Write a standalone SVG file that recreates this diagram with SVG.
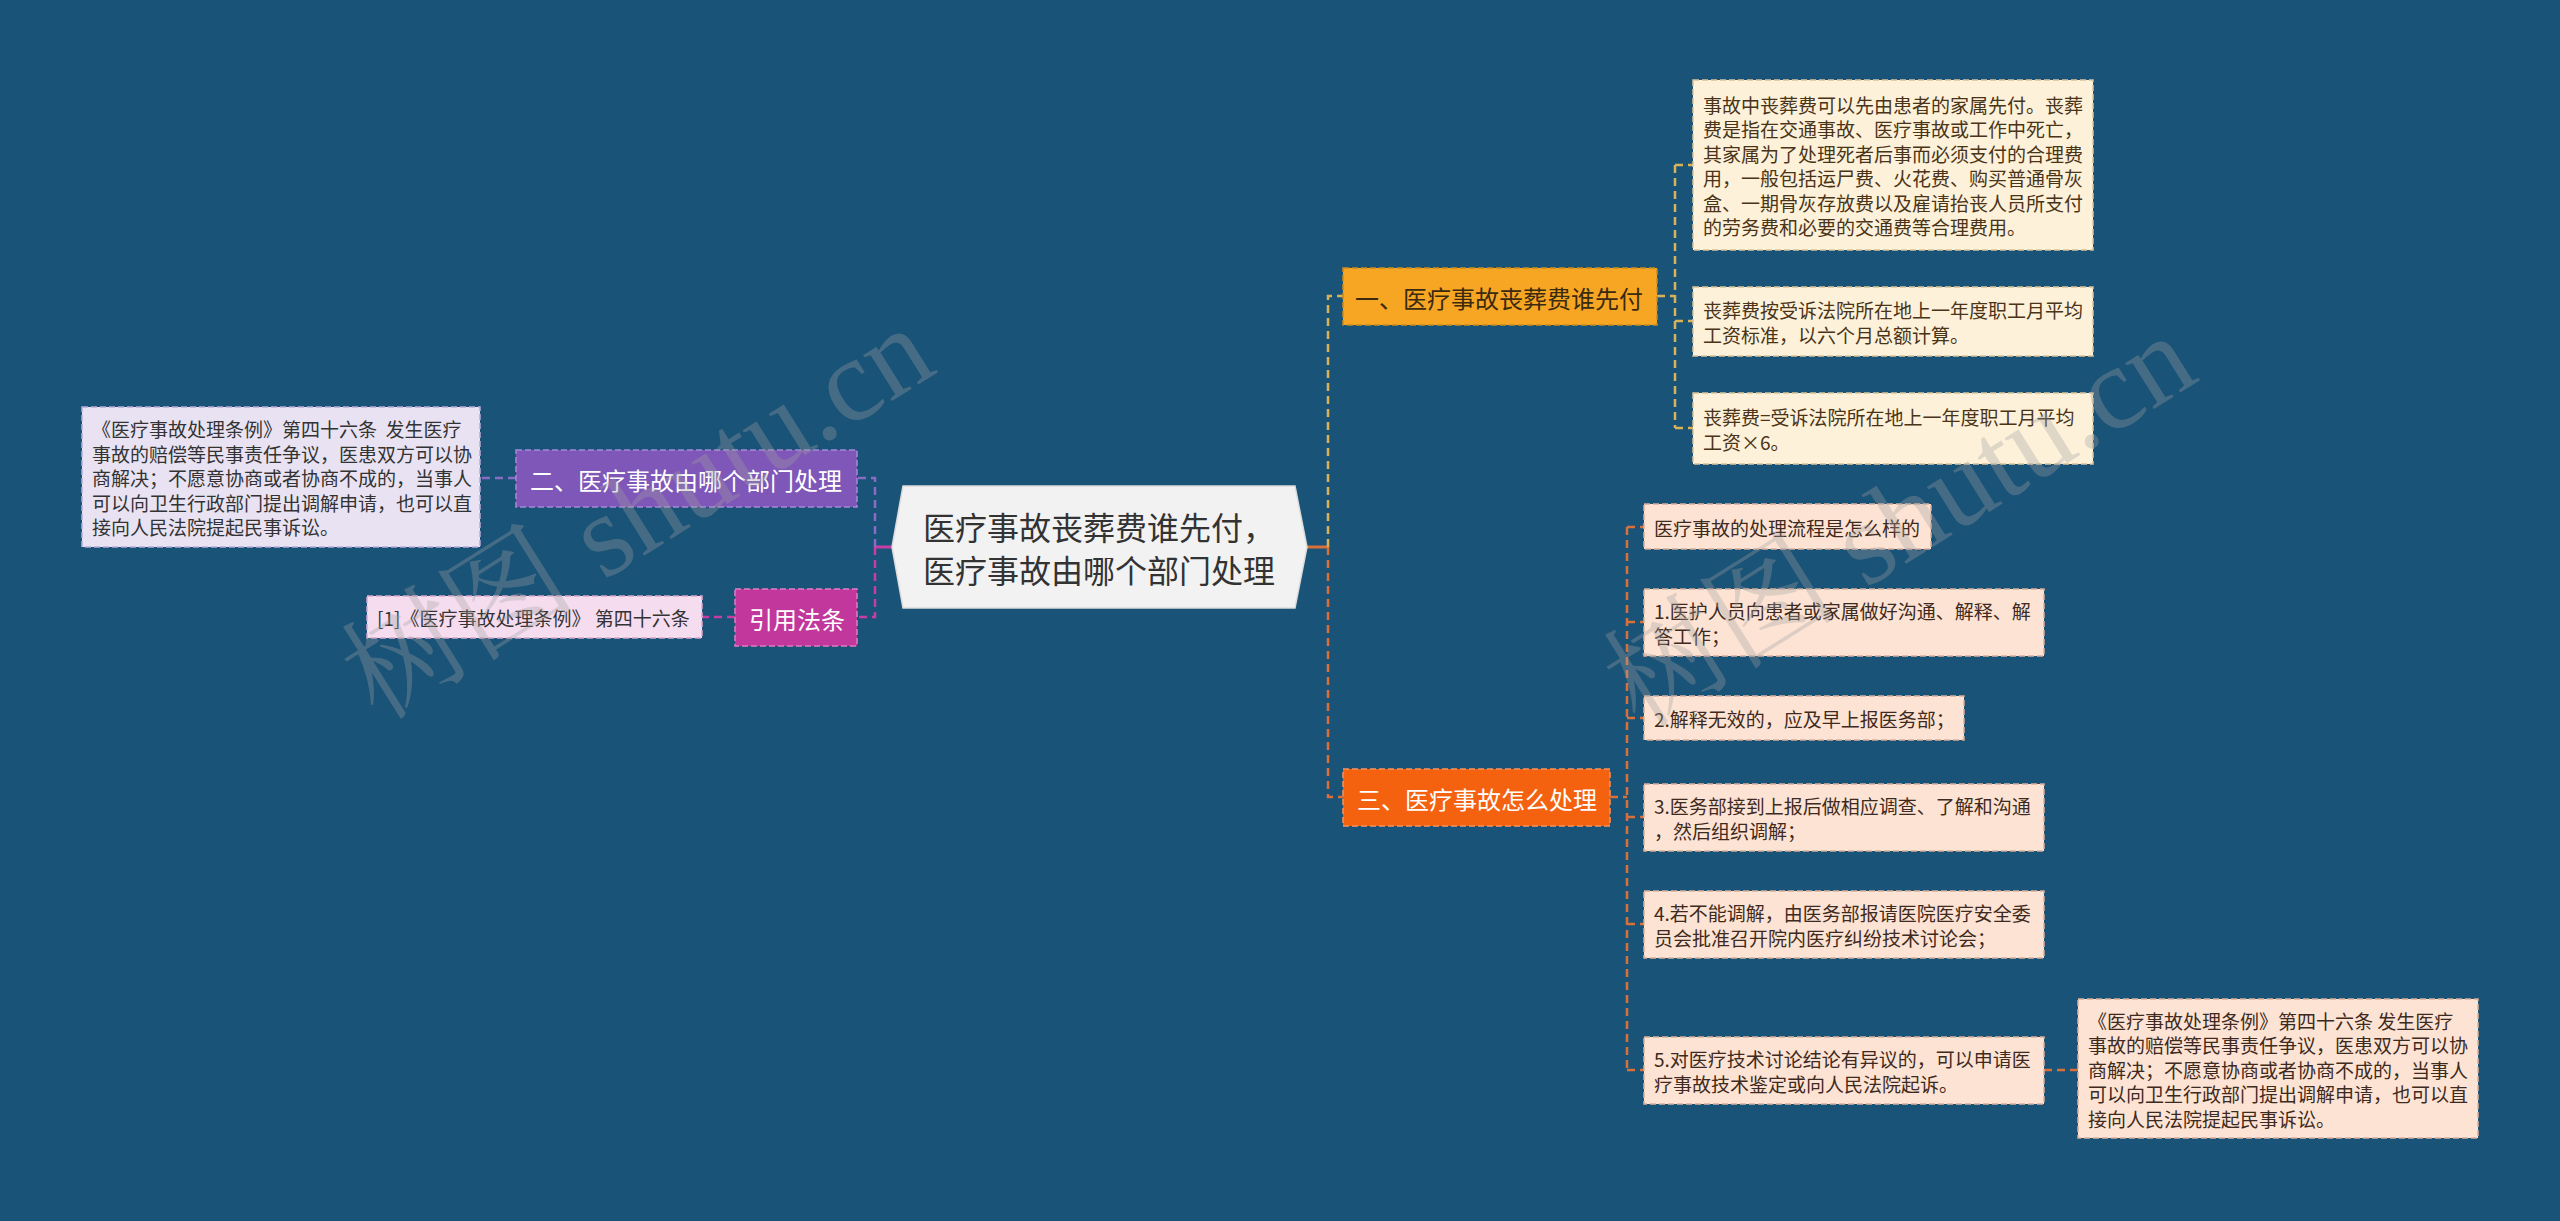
<svg xmlns="http://www.w3.org/2000/svg" width="2560" height="1221" viewBox="0 0 2560 1221">
<defs>
<style>
text{font-family:"Noto Sans CJK SC","Noto Sans",sans-serif;}
.t19{font-size:19px;dominant-baseline:central;}
.t24{font-size:24px;dominant-baseline:central;}
.t32{font-size:32px;dominant-baseline:central;fill:#333333;}
.c{fill:none;stroke-width:2.5;stroke-dasharray:8 5;}
.s{fill:none;stroke-width:3;}
.pur{stroke:#8a6cc4;}
.mag{stroke:#c63ea2;}
.yel{stroke:#d9b258;}
.org{stroke:#d9703a;}
.nb{stroke-width:1.5;stroke-dasharray:6 3;}
.wm{font-family:"Liberation Serif","Noto Serif CJK SC","Noto Sans CJK SC",serif;font-size:118px;fill:#a0a0a0;fill-opacity:0.33;}
</style>
</defs>
<rect x="0" y="0" width="2560" height="1221" fill="#1a5378"/>

<g id="connectors">
  <line class="s mag" x1="892" y1="547" x2="875" y2="547"/>
  <path class="c pur" d="M875,547 V478 H857"/>
  <path class="c mag" d="M875,547 V617 H857"/>
  <line class="c pur" x1="516" y1="478" x2="480" y2="478"/>
  <line class="c mag" x1="735" y1="617" x2="702" y2="617"/>
  <line class="s org" x1="1307" y1="547" x2="1328" y2="547"/>
  <path class="c yel" d="M1328,547 V296 H1343"/>
  <path class="c org" d="M1328,547 V797 H1343"/>
  <path class="c yel" d="M1657,296 H1675 M1675,165 V428 M1675,165 H1693 M1675,321 H1693 M1675,428 H1693"/>
  <path class="c org" d="M1610,797 H1627 M1627,527 V1070 M1627,527 H1644 M1627,622 H1644 M1627,718 H1644 M1627,817 H1644 M1627,924 H1644 M1627,1070 H1644"/>
  <line class="c org" x1="2044" y1="1070" x2="2078" y2="1070"/>
</g>

<g id="root">
  <polygon points="892,547 903,486 1295,486 1307,547 1295,608 903,608" fill="#f2f2f2" stroke="#dcdcdc" stroke-width="1.5"/>
  <text class="t32" x="1099" y="526" text-anchor="middle">医疗事故丧葬费谁先付，</text>
  <text class="t32" x="1099" y="569" text-anchor="middle">医疗事故由哪个部门处理</text>
</g>

<g id="node-er">
  <rect x="516" y="450" width="341" height="57" fill="#7e57b8" class="nb" stroke="#a58ad6"/>
  <text class="t24" x="530" y="479" fill="#ffffff">二、医疗事故由哪个部门处理</text>
</g>
<g id="node-er-detail">
  <rect x="82" y="407" width="398" height="140" fill="#e8e2f2" class="nb" stroke="#b9aad6"/>
  <text class="t19" fill="#333333"><tspan x="92" y="428">《医疗事故处理条例》第四十六条&#160;&#160;发生医疗</tspan><tspan x="92" y="452.5">事故的赔偿等民事责任争议，医患双方可以协</tspan><tspan x="92" y="477">商解决；不愿意协商或者协商不成的，当事人</tspan><tspan x="92" y="501.5">可以向卫生行政部门提出调解申请，也可以直</tspan><tspan x="92" y="526">接向人民法院提起民事诉讼。</tspan></text>
</g>

<g id="node-law">
  <rect x="735" y="589" width="122" height="57" fill="#c2379b" class="nb" stroke="#e07cc4"/>
  <text class="t24" x="749" y="618" fill="#ffffff">引用法条</text>
</g>
<g id="node-law-detail">
  <rect x="367" y="596" width="335" height="42" fill="#f5ddef" class="nb" stroke="#d8a8cc"/>
  <text class="t19" x="377" y="617" fill="#333333">[1]《医疗事故处理条例》 第四十六条</text>
</g>

<g id="node-yi">
  <rect x="1343" y="268" width="314" height="57" fill="#f6a623" class="nb" stroke="#c98a1c"/>
  <text class="t24" x="1355" y="297" fill="#3a2a10">一、医疗事故丧葬费谁先付</text>
</g>
<g id="node-yi-1">
  <rect x="1693" y="80" width="400" height="170" fill="#fdf1d9" class="nb" stroke="#d9c49a"/>
  <text class="t19" fill="#4a3418"><tspan x="1703" y="103.75">事故中丧葬费可以先由患者的家属先付。丧葬</tspan><tspan x="1703" y="128.25">费是指在交通事故、医疗事故或工作中死亡，</tspan><tspan x="1703" y="152.75">其家属为了处理死者后事而必须支付的合理费</tspan><tspan x="1703" y="177.25">用，一般包括运尸费、火花费、购买普通骨灰</tspan><tspan x="1703" y="201.75">盒、一期骨灰存放费以及雇请抬丧人员所支付</tspan><tspan x="1703" y="226.25">的劳务费和必要的交通费等合理费用。</tspan></text>
</g>
<g id="node-yi-2">
  <rect x="1693" y="287" width="400" height="69" fill="#fdf1d9" class="nb" stroke="#d9c49a"/>
  <text class="t19" fill="#4a3418"><tspan x="1703" y="309.25">丧葬费按受诉法院所在地上一年度职工月平均</tspan><tspan x="1703" y="333.75">工资标准，以六个月总额计算。</tspan></text>
</g>
<g id="node-yi-3">
  <rect x="1693" y="393" width="400" height="71" fill="#fdf1d9" class="nb" stroke="#d9c49a"/>
  <text class="t19" fill="#4a3418"><tspan x="1703" y="416.25">丧葬费=受诉法院所在地上一年度职工月平均</tspan><tspan x="1703" y="440.75">工资×6。</tspan></text>
</g>

<g id="node-san">
  <rect x="1343" y="769" width="267" height="57" fill="#f5620f" class="nb" stroke="#f7935a"/>
  <text class="t24" x="1357" y="798" fill="#ffffff">三、医疗事故怎么处理</text>
</g>
<g id="node-san-0">
  <rect x="1644" y="504" width="287" height="45" fill="#fde3d3" class="nb" stroke="#d9b09a"/>
  <text class="t19" x="1654" y="527" fill="#3d2a20">医疗事故的处理流程是怎么样的</text>
</g>
<g id="node-san-1">
  <rect x="1644" y="589" width="400" height="67" fill="#fde3d3" class="nb" stroke="#d9b09a"/>
  <text class="t19" fill="#3d2a20"><tspan x="1654" y="610.25">1.医护人员向患者或家属做好沟通、解释、解</tspan><tspan x="1654" y="634.75">答工作；</tspan></text>
</g>
<g id="node-san-2">
  <rect x="1644" y="696" width="320" height="44" fill="#fde3d3" class="nb" stroke="#d9b09a"/>
  <text class="t19" x="1654" y="718" fill="#3d2a20">2.解释无效的，应及早上报医务部；</text>
</g>
<g id="node-san-3">
  <rect x="1644" y="784" width="400" height="67" fill="#fde3d3" class="nb" stroke="#d9b09a"/>
  <text class="t19" fill="#3d2a20"><tspan x="1654" y="805.25">3.医务部接到上报后做相应调查、了解和沟通</tspan><tspan x="1654" y="829.75">，然后组织调解；</tspan></text>
</g>
<g id="node-san-4">
  <rect x="1644" y="891" width="400" height="67" fill="#fde3d3" class="nb" stroke="#d9b09a"/>
  <text class="t19" fill="#3d2a20"><tspan x="1654" y="912.25">4.若不能调解，由医务部报请医院医疗安全委</tspan><tspan x="1654" y="936.75">员会批准召开院内医疗纠纷技术讨论会；</tspan></text>
</g>
<g id="node-san-5">
  <rect x="1644" y="1037" width="400" height="67" fill="#fde3d3" class="nb" stroke="#d9b09a"/>
  <text class="t19" fill="#3d2a20"><tspan x="1654" y="1058.25">5.对医疗技术讨论结论有异议的，可以申请医</tspan><tspan x="1654" y="1082.75">疗事故技术鉴定或向人民法院起诉。</tspan></text>
</g>
<g id="node-san-5-detail">
  <rect x="2078" y="999" width="400" height="139" fill="#fde3d3" class="nb" stroke="#d9b09a"/>
  <text class="t19" fill="#3d2a20"><tspan x="2088" y="1019.5">《医疗事故处理条例》第四十六条 发生医疗</tspan><tspan x="2088" y="1044">事故的赔偿等民事责任争议，医患双方可以协</tspan><tspan x="2088" y="1068.5">商解决；不愿意协商或者协商不成的，当事人</tspan><tspan x="2088" y="1093">可以向卫生行政部门提出调解申请，也可以直</tspan><tspan x="2088" y="1117.5">接向人民法院提起民事诉讼。</tspan></text>
</g>

<g id="watermark">
  <text class="wm" x="378" y="722" transform="rotate(-32 378 722)">树图 shutu.cn</text>
  <text class="wm" x="1640" y="730" transform="rotate(-32 1640 730)">树图 shutu.cn</text>
</g>
</svg>
